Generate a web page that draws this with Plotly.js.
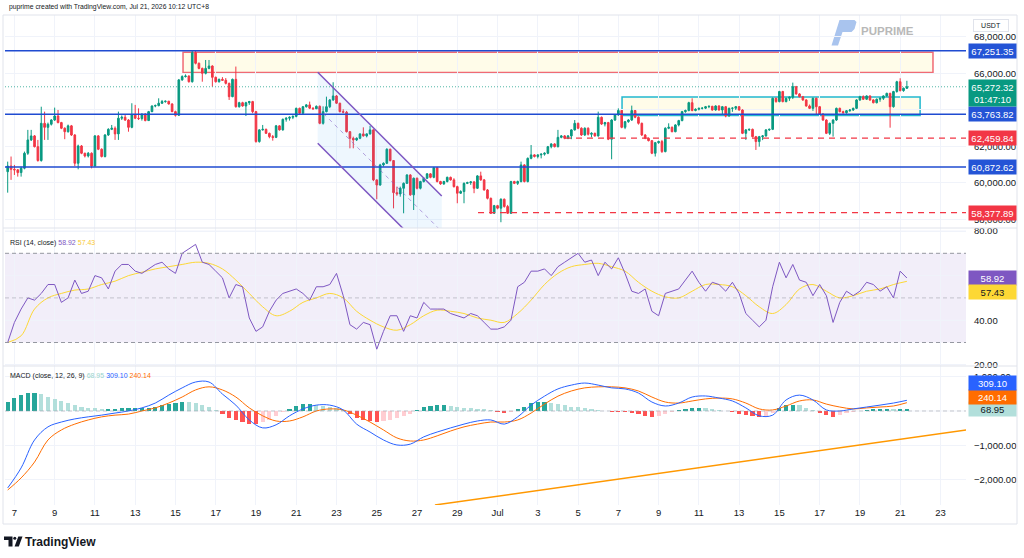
<!DOCTYPE html>
<html>
<head>
<meta charset="utf-8">
<script src="https://cdn.plot.ly/plotly-3.0.1.min.js"></script>
<style>
html,body{margin:0;padding:0;background:#ffffff;}
#chart{width:1024px;height:558px;}
</style>
</head>
<body>
<div id="chart"></div>
<script>
// ---------------- DATA ----------------
const candleStartUTC = [2026, 5, 6, 16];   // 2026-06-06 16:00, 4H candles
const candleHours = 4;

const opens = [
60620,60930,60750,60720,60570,60810,61630,62360,62580,61990,
61230,63270,63050,63220,63450,63670,63310,63000,62810,63130,
62630,61080,62030,61630,61480,61630,60930,62580,61850,61450,
62630,62940,63000,62690,63550,63600,63450,63050,63730,63550,
63530,63780,63420,63910,64220,64240,64370,64460,64480,
64330,63910,63710,65650,65830,65860,65550,67140,66560,66280,
66010,66280,66410,65790,65550,65680,65630,65460,64730,65680,
64180,64400,64220,64400,64460,63910,62270,62910,62940,62720,
62540,62500,63130,62910,63490,63550,63600,63650,64090,63820,
64180,64280,64100,
64070,64200,63270,63910,64180,64550,
64770,64370,63910,63880,62810,62450,62360,62450,62690,62580,
62690,62910,60170,59890,60990,61080,61850,61230,59470,59400,
59710,59980,60440,59350,60260,59710,60080,60260,60500,60310,
60840,60080,59950,60080,60310,60170,59800,59440,59530,59980,
60020,60060,59710,60390,60170,59620,59160,58340,58760,58620,
59110,58710,58340,60080,59980,60080,60990,60080,61350,61540,
61450,61540,61580,61630,61990,62140,61990,62500,62580,62450,
62580,62910,63270,63000,62630,63000,62670,62720,62580,63600,
63230,63310,62400,63450,63730,63970,63050,63360,63450,63970,
63600,63270,62630,62450,62320,61630,62210,62270,61720,63000,
63050,62810,63180,63420,63910,63970,64400,63970,64040,64090,
64100,64180,64200,64000,64220,64000,64180,63670,64090,
64100,64180,64000,62720,62910,62940,62540,62270,62540,62580,
62910,62940,64640,64460,65010,64460,64640,64700,65280,64880,
64730,64550,64220,64090,64640,64180,63780,63450,62720,63270,
63450,64090,63910,63850,63960,64000,64090,64550,64730,64590,
64770,64550,64400,64590,64640,64770,64910,64180,65010,65550,65060,65190
];
const highs = [
61170,61450,60990,60760,60900,61720,62910,62910,62630,62360,
64180,63910,63310,63500,64130,64000,63350,63050,63200,63180,
62680,62100,62080,61660,61700,61680,62630,62630,61900,62680,
63000,63180,63100,63910,63700,63730,63500,64370,64280,64090,
63800,63820,63950,64250,64300,64640,64550,64520,64500,
64370,63960,65700,65900,65950,65900,67251,67251,66600,66320,
66740,66740,66450,65830,65720,65800,65750,65500,65720,66380,
64450,64450,64450,64500,64500,63950,62950,63180,62980,62760,
62630,63180,63160,63530,63600,63650,63700,64130,64130,64220,
64330,64460,64150,
64250,64250,64200,64730,64600,65520,
64820,64400,64040,63950,62850,62540,62500,62720,63050,62720,
63130,62950,60200,61050,61130,61900,61880,61260,59800,59800,
60030,60480,60480,60300,60300,60120,60300,60540,60540,60880,
60880,60120,60120,60350,60350,60260,59850,59600,60030,60070,
60100,60100,60430,60620,60220,59670,59200,58800,58800,59160,
59150,58800,60120,60120,60130,61170,61030,61400,62080,61580,
61580,61620,61680,62030,62180,62180,62910,62630,62630,62630,
62950,63450,63310,63050,63050,63050,62780,62760,63910,63640,
63350,63350,63500,63780,64090,64000,63400,63500,64240,64000,
63650,63310,62680,62500,62350,62250,62320,62360,63050,63270,
63100,63220,63460,63950,64020,64450,64640,64090,64130,64150,
64220,64250,64230,64260,64260,64220,64220,64130,64150,
64220,64220,64040,62950,62980,62980,62580,62580,62630,62950,
62980,64680,64680,65050,65050,64680,64740,65500,65320,64920,
64770,64590,64300,64680,64680,64220,63820,63490,63310,63490,
64130,64130,63960,64000,64050,64130,64590,64780,64800,64800,
64800,64590,64630,64680,64800,64950,64950,65050,65600,65740,65230,65600
];
const lows = [
59470,60170,60440,60350,60350,60750,61540,62300,61950,61170,
61170,62360,62360,63150,63400,63270,62950,62400,62760,62580,
60930,60750,61580,61400,61400,60800,60900,61800,61400,61400,
62580,62900,62360,62360,63450,63400,62810,63000,63500,63450,
63420,63380,63400,63880,64150,64200,64330,64400,64300,
63880,63640,63680,65600,65780,65500,65500,66500,66230,65550,
65950,66230,65280,65500,65500,65600,65400,64550,64700,64130,
64130,64180,63670,64280,63820,62210,62210,62870,62690,62450,
62320,62460,62870,62870,63360,63420,63500,63600,63780,63780,
64130,64050,64000,
64050,63220,63200,63870,64100,64500,
64330,63870,63820,62770,61900,61900,62300,62400,62540,62500,
62650,60100,59110,59850,60900,61040,61180,58610,59300,59250,
58340,59950,59300,58520,59650,59650,60030,60220,60260,60260,
60030,59900,59900,60030,60130,59750,58890,59400,58890,59940,
59900,59440,59670,60120,59580,59100,58300,58300,58560,57850,
58650,58300,58300,59940,59890,60030,60030,60030,61300,61400,
61350,61350,61500,61580,61900,61950,61950,62450,62400,62400,
62400,62870,62950,62580,62580,62600,62500,62540,62540,63180,
63100,62350,61300,63400,63680,63000,62950,63300,63400,63550,
63200,62580,62400,62280,61580,61450,62150,61650,61680,62950,
62780,62780,63100,63380,63850,63930,63930,63930,63980,64030,
64050,64100,63960,63960,63960,63780,63600,63640,63900,
64000,63960,62680,62360,62850,62500,61810,61990,62350,62540,
62850,62900,64400,64420,64420,64420,64500,64600,64840,64690,
64500,64180,64050,63950,63730,63730,63400,62680,62630,62540,
63400,63870,63800,63800,63900,63950,64050,64500,64550,64550,
64500,64360,64360,64450,64550,64730,63030,64130,64950,65020,65000,65150
];
const closes = [
60930,60750,60720,60570,60810,61630,62360,62580,61990,61230,
63270,63050,63220,63450,63670,63310,63000,62810,63130,62630,
61080,62030,61630,61480,61630,60930,62580,61850,61450,62630,
62940,63000,62690,63550,63600,63450,63050,63730,63550,63530,
63780,63420,63910,64220,64240,64370,64460,64480,64330,
63910,63710,65650,65830,65860,65550,67140,66560,66280,66010,
66280,66410,65790,65550,65680,65630,65460,64730,65680,64180,
64400,64220,64400,64460,63910,62270,62910,62940,62720,62540,
62500,63130,62910,63490,63550,63600,63650,64090,63820,64180,
64280,64100,64070,
64200,63270,63910,64180,64550,64770,
64370,63910,63880,62810,62450,62360,62450,62690,62580,62690,
62910,60170,59890,60990,61080,61850,61230,59470,59400,59710,
59980,60440,59350,60260,59710,60080,60260,60500,60310,60840,
60080,59950,60080,60310,60170,59800,59440,59530,59980,60020,
60060,59710,60390,60170,59620,59160,58340,58760,58620,59110,
58710,58340,60080,59980,60080,60990,60080,61350,61540,61450,
61540,61580,61630,61990,62140,61990,62500,62580,62450,62580,
62910,63270,63000,62630,63000,62670,62720,62580,63600,63230,
63310,62400,63450,63730,63970,63050,63360,63450,63970,63600,
63270,62630,62450,62320,61630,62210,62270,61720,63000,63050,
62810,63180,63420,63910,63970,64400,63970,64040,64090,64100,
64180,64200,64000,64220,64000,64180,63670,64090,64100,
64180,64000,62720,62910,62940,62540,62270,62540,62580,62910,
62940,64640,64460,65010,64460,64640,64700,65280,64880,64730,
64550,64220,64090,64640,64180,63780,63450,62720,63270,63450,
64090,63910,63850,63960,64000,64090,64550,64730,64590,64770,
64550,64400,64590,64640,64770,64910,64180,65010,65550,65060,65190,65272.32
];

// RSI (14) read every 2 candles, its MA every 4 candles
const rsiStep = 2;
const rsiValues = [
30,39,45,50,49,52,56,56,48,50,
58,52,53,60,59,54,62,65,65,62,
61,63,65,66,63,61,70,72,74,66,
65,62,59,50,56,55,41,35,37,44,
49,52,53,54,52,49,55,55,56,61,
51,38,36,39,38,27,35,42,42,35,
42,41,48,45,45,45,43,42,41,43,
42,39,36,36,37,40,55,57,62,62,
63,60,64,66,68,70,66,67,60,66,
63,68,61,53,52,54,44,42,52,53,
54,58,62,57,53,57,56,53,57,52,
43,40,37,40,55,66,59,65,58,57,
51,56,51,39,48,53,51,53,57,56,
53,55,50,62,58.92
];
const rsiMaStep = 4;
const rsiMaValues = [
30,33,45,50,52,53.5,54,56,57.5,60,
61.5,63,64,65,66,65.5,63,58,52,46,
42,44,48,50,52,50,44,40,37,35.5,
38,42,44.5,44,43,41,40,39,43,49,
56,61,64,65,65.5,64,62,57,53,50.5,
50,53,56,56,55,51,46,43,47,54,
56,53,50,51,53,54,56,57.43
];

// MACD (12, 26, 9) read every 4 candles, histogram every 2 candles
const macdStep = 4;
const macdValues = [
-2230,-1650,-840,-460,-320,-230,-170,-120,-60,0,
90,230,460,670,840,840,490,170,-260,-490,
-400,-140,60,170,170,30,-380,-610,-840,-985,
-960,-750,-610,-490,-380,-290,-260,-380,-170,170,
430,640,750,810,750,670,640,520,260,145,
230,405,435,375,290,90,-140,-120,320,460,
320,30,0,60,115,170,230,309.10
];
const signalValues = [
-2290,-1940,-1480,-840,-550,-380,-260,-170,-120,-90,
0,90,230,405,610,700,610,405,90,-140,
-290,-290,-170,0,60,30,-120,-320,-550,-780,
-870,-840,-720,-580,-460,-380,-320,-320,-260,-60,
200,430,580,670,700,700,670,580,405,260,
230,290,350,375,350,230,60,30,145,290,
320,200,115,60,90,115,145,240.14
];
const histStep = 2;
const histValues = [
250,380,470,520,520,480,420,360,300,230,
170,130,100,80,60,60,70,80,90,90,
90,100,130,160,200,230,260,250,230,180,
120,30,-80,-200,-260,-330,-370,-380,-330,-250,
-150,-40,60,140,190,200,180,150,120,80,
20,-80,-200,-270,-300,-320,-300,-250,-200,-150,
-80,30,110,150,160,160,140,110,100,90,
70,50,20,-20,-60,-30,60,130,220,260,
260,230,200,160,120,110,90,50,20,0,
-30,-40,-40,-70,-100,-140,-170,-140,-100,-40,
20,70,100,100,90,60,30,10,-30,-80,
-120,-150,-170,-140,-60,80,160,180,160,100,
30,-60,-130,-160,-130,-70,-20,10,30,50,
60,60,50,60,68.95
];

// x-axis ticks
const tickDates = ['2026-06-07','2026-06-09','2026-06-11','2026-06-13','2026-06-15','2026-06-17','2026-06-19','2026-06-21','2026-06-23','2026-06-25','2026-06-27','2026-06-29','2026-07-01','2026-07-03','2026-07-05','2026-07-07','2026-07-09','2026-07-11','2026-07-13','2026-07-15','2026-07-17','2026-07-19','2026-07-21','2026-07-23'];
const tickLabels = ['7','9','11','13','15','17','19','21','23','25','27','29','Jul','3','5','7','9','11','13','15','17','19','21','23'];
const priceTicks = [58000,60000,62000,64000,66000,68000];
const rsiTicks = [20,40,80];          // 60.00 sits behind the value tags in the reference
const macdTicks = [-2000,-1000,1000]; // 0.00 sits behind the 68.95 tag in the reference
const rsiGrid = [20,40,60,80];

// drawn levels / tools
const resistanceLevel = 67251.35;
const midLevel = 63763.82;
const supportLevel = 60872.62;
const dashedLevelA = 62459.84;
const dashedLevelB = 58377.89;
const lastPrice = 65272.32;
const countdown = '01:47:10';
const supplyZone = ['2026-06-15 09:02','2026-07-22 15:07', 66050, 67160];
const rangeZone = ['2026-07-07 04:25','2026-07-21 23:46', 63700, 64716];
const channelTimes = ['2026-06-22 01:36','2026-06-28 05:27'];
const channelUpper = [66066, 59288];
const channelMiddle = [64120, 57342];
const channelLower = [62175, 55397];
const dashedAStart = '2026-07-04 08:24';
const dashedBStart = '2026-06-30 00:43';
const macdTrendTimes = ['2026-06-27 21:21','2026-07-24 07:00'];
const macdTrendValues = [-2725, -550];

// ---------------- helpers ----------------
const FONT = 'Liberation Sans, Arial, sans-serif';
const PL = 5, PR = 966, PT = 15, PB = 505;
const px2x = p => (p - PL) / (PR - PL);
const px2y = p => (PB - p) / (PB - PT);
function fmt(ms){ return new Date(ms).toISOString().slice(0,16).replace('T',' '); }
const t0 = Date.UTC(candleStartUTC[0], candleStartUTC[1], candleStartUTC[2], candleStartUTC[3]);
const times = closes.map((_, i) => fmt(t0 + i * candleHours * 3600000));
const stepTimes = (n, step) => Array.from({length:n}, (_, k) => times[k * step]);
const rsiTimes = stepTimes(rsiValues.length, rsiStep);
const rsiMaTimes = stepTimes(rsiMaValues.length, rsiMaStep);
const macdTimes = stepTimes(macdValues.length, macdStep);
const histTimes = stepTimes(histValues.length, histStep);
const histColors = histValues.map((v, i) => {
  const prev = i > 0 ? histValues[i-1] : v;
  if (v >= 0) return v >= prev ? '#26a69a' : '#b2dfdb';
  return v <= prev ? '#ff5252' : '#ffcdd2';
});
const xRange = ['2026-06-06 12:47','2026-07-24 06:29'];
const xEnd = xRange[1];

// ---------------- traces ----------------
const traces = [
  { type:'scatter', mode:'lines', x:[channelTimes[0],channelTimes[1],channelTimes[1],channelTimes[0],channelTimes[0]],
    y:[channelUpper[0],channelUpper[1],channelLower[1],channelLower[0],channelUpper[0]],
    fill:'toself', fillcolor:'rgba(33,150,243,0.08)', line:{width:0}, hoverinfo:'skip', xaxis:'x', yaxis:'y' },
  { type:'candlestick', x:times, open:opens, high:highs, low:lows, close:closes, xaxis:'x', yaxis:'y',
    increasing:{line:{color:'#089981', width:1}, fillcolor:'#089981'},
    decreasing:{line:{color:'#f23645', width:1}, fillcolor:'#f23645'},
    whiskerwidth:0, hoverinfo:'skip' },
  { type:'scatter', mode:'lines', x:rsiMaTimes, y:rsiMaValues, line:{color:'#fdd835', width:1, shape:'spline'}, xaxis:'x', yaxis:'y2', hoverinfo:'skip' },
  { type:'scatter', mode:'lines', x:rsiTimes, y:rsiValues, line:{color:'#7e57c2', width:1}, xaxis:'x', yaxis:'y2', hoverinfo:'skip' },
  { type:'bar', x:histTimes, y:histValues, marker:{color:histColors, line:{width:0}}, width:histStep*candleHours*3600000*0.62, xaxis:'x', yaxis:'y3', hoverinfo:'skip' },
  { type:'scatter', mode:'lines', x:macdTimes, y:signalValues, line:{color:'#ff6d00', width:1, shape:'spline'}, xaxis:'x', yaxis:'y3', hoverinfo:'skip' },
  { type:'scatter', mode:'lines', x:macdTimes, y:macdValues, line:{color:'#2962ff', width:1, shape:'spline'}, xaxis:'x', yaxis:'y3', hoverinfo:'skip' }
];

// ---------------- shapes ----------------
const BLUE = '#1f4bd1';
const shapes = [
  { type:'rect', xref:'x', yref:'y', x0:supplyZone[0], x1:supplyZone[1], y0:supplyZone[2], y1:supplyZone[3],
    fillcolor:'rgba(255,236,120,0.16)', line:{color:'#f06a74', width:1.5}, layer:'below' },
  { type:'rect', xref:'x', yref:'y', x0:rangeZone[0], x1:rangeZone[1], y0:rangeZone[2], y1:rangeZone[3],
    fillcolor:'rgba(255,236,120,0.16)', line:{color:'#22b8cf', width:1.5}, layer:'below' },
  { type:'rect', xref:'paper', yref:'y2', x0:0, x1:1, y0:30, y1:70, fillcolor:'rgba(126,87,194,0.1)', line:{width:0}, layer:'below' },
  { type:'line', xref:'paper', yref:'y2', x0:0, x1:1, y0:70, y1:70, line:{color:'#9598a1', width:1, dash:'4px,3px'} },
  { type:'line', xref:'paper', yref:'y2', x0:0, x1:1, y0:50, y1:50, line:{color:'rgba(149,152,161,0.5)', width:1, dash:'4px,3px'} },
  { type:'line', xref:'paper', yref:'y2', x0:0, x1:1, y0:30, y1:30, line:{color:'#9598a1', width:1, dash:'4px,3px'} },
  { type:'line', xref:'paper', yref:'y3', x0:0, x1:1, y0:0, y1:0, line:{color:'rgba(149,152,161,0.5)', width:1, dash:'4px,3px'} },
  { type:'line', xref:'paper', yref:'y', x0:0, x1:1, y0:resistanceLevel, y1:resistanceLevel, line:{color:BLUE, width:1.5} },
  { type:'line', xref:'paper', yref:'y', x0:0, x1:1, y0:midLevel, y1:midLevel, line:{color:BLUE, width:1.5} },
  { type:'line', xref:'paper', yref:'y', x0:0, x1:1, y0:supportLevel, y1:supportLevel, line:{color:BLUE, width:1.5} },
  { type:'line', xref:'paper', yref:'y', x0:0, x1:1, y0:lastPrice, y1:lastPrice, line:{color:'rgba(8,153,129,0.7)', width:1, dash:'1px,2px'} },
  { type:'line', xref:'x', yref:'y', x0:dashedAStart, x1:xEnd, y0:dashedLevelA, y1:dashedLevelA, line:{color:'#f23645', width:1.2, dash:'6px,5px'} },
  { type:'line', xref:'x', yref:'y', x0:dashedBStart, x1:xEnd, y0:dashedLevelB, y1:dashedLevelB, line:{color:'#f23645', width:1.2, dash:'6px,5px'} },
  { type:'line', xref:'x', yref:'y', x0:channelTimes[0], x1:channelTimes[1], y0:channelUpper[0], y1:channelUpper[1], line:{color:'#7e57c2', width:1.5} },
  { type:'line', xref:'x', yref:'y', x0:channelTimes[0], x1:channelTimes[1], y0:channelLower[0], y1:channelLower[1], line:{color:'#7e57c2', width:1.5} },
  { type:'line', xref:'x', yref:'y', x0:channelTimes[0], x1:channelTimes[1], y0:channelMiddle[0], y1:channelMiddle[1], line:{color:'rgba(126,87,194,0.55)', width:1, dash:'4px,4px'} },
  { type:'line', xref:'x', yref:'y3', x0:macdTrendTimes[0], x1:macdTrendTimes[1], y0:macdTrendValues[0], y1:macdTrendValues[1], line:{color:'#ff9800', width:1.5} },
  { type:'line', xref:'paper', yref:'paper', x0:px2x(3), x1:px2x(1017), y0:px2y(228), y1:px2y(228), line:{color:'#e0e3eb', width:1} },
  { type:'line', xref:'paper', yref:'paper', x0:px2x(3), x1:px2x(1017), y0:px2y(366), y1:px2y(366), line:{color:'#e0e3eb', width:1} },
  { type:'rect', xref:'paper', yref:'paper', x0:px2x(3), x1:px2x(1017), y0:px2y(524), y1:px2y(15), line:{color:'#e0e3eb', width:1}, fillcolor:'rgba(0,0,0,0)' },
  { type:'path', xref:'paper', yref:'paper', layer:'below',
    path:`M ${px2x(831.5)} ${px2y(45.5)} L ${px2x(838)} ${px2y(45.5)} L ${px2x(842.5)} ${px2y(32)} L ${px2x(851.5)} ${px2y(32)} L ${px2x(854.5)} ${px2y(29)} L ${px2x(856.5)} ${px2y(22)} L ${px2x(854.5)} ${px2y(20)} L ${px2x(839.5)} ${px2y(20)} Z`,
    fillcolor:'#a9c4ee', line:{width:0} },
  { type:'path', xref:'paper', yref:'paper',
    path:`M ${px2x(4)} ${px2y(536.5)} L ${px2x(12.5)} ${px2y(536.5)} L ${px2x(12.5)} ${px2y(546.5)} L ${px2x(8.5)} ${px2y(546.5)} L ${px2x(8.5)} ${px2y(540)} L ${px2x(4)} ${px2y(540)} Z`,
    fillcolor:'#131722', line:{width:0} },
  { type:'circle', xref:'paper', yref:'paper', x0:px2x(13.3), x1:px2x(16.3), y0:px2y(539.8), y1:px2y(536.8), fillcolor:'#131722', line:{width:0} },
  { type:'path', xref:'paper', yref:'paper',
    path:`M ${px2x(18.3)} ${px2y(536.5)} L ${px2x(22.5)} ${px2y(536.5)} L ${px2x(18.8)} ${px2y(546.5)} L ${px2x(14.6)} ${px2y(546.5)} Z`,
    fillcolor:'#131722', line:{width:0} }
];
// faint RSI grid lines (including the 60 level whose label is hidden)
rsiGrid.forEach(v => shapes.push({ type:'line', xref:'paper', yref:'y2', x0:0, x1:1, y0:v, y1:v, line:{color:'#f0f3fa', width:1}, layer:'below' }));
shapes.push({ type:'line', xref:'paper', yref:'y3', x0:0, x1:1, y0:0, y1:0, line:{color:'#f0f3fa', width:1}, layer:'below' });

// ---------------- annotations ----------------
function tag(yref, value, text, bg, fg, yshift){
  return { xref:'paper', x:px2x(968), xanchor:'left', yref:yref, y:value, yanchor:'middle', yshift:yshift||0,
    text:text, showarrow:false, bgcolor:bg, font:{color:fg, size:9.5, family:FONT}, width:44, borderpad:1.5, align:'center' };
}
const fmt2 = v => v.toLocaleString('en-US', {minimumFractionDigits:2, maximumFractionDigits:2});
const rsiLast = rsiValues[rsiValues.length-1], rsiMaLast = rsiMaValues[rsiMaValues.length-1];
const macdLast = macdValues[macdValues.length-1], sigLast = signalValues[signalValues.length-1], histLast = histValues[histValues.length-1];
const annotations = [
  { xref:'paper', yref:'paper', x:px2x(7), y:px2y(7.5), xanchor:'left', yanchor:'middle', showarrow:false,
    text:'puprime created with TradingView.com, Jul 21, 2026 10:12 UTC+8', font:{size:6.8, color:'#131722', family:FONT} },
  { xref:'paper', yref:'paper', x:px2x(991), y:px2y(25), xanchor:'center', yanchor:'middle', showarrow:false,
    text:'USDT', font:{size:7, color:'#131722', family:FONT}, bordercolor:'#e0e3eb', borderwidth:1, borderpad:2, width:30 },
  { xref:'paper', yref:'paper', x:px2x(859), y:px2y(31.5), xanchor:'left', yanchor:'middle', showarrow:false,
    text:'<b>PUPRIME</b>', font:{size:11.5, color:'#b8b8b8', family:FONT} },
  { xref:'paper', yref:'paper', x:px2x(8), y:px2y(243), xanchor:'left', yanchor:'middle', showarrow:false,
    text:`RSI (14, close) <span style="color:#7e57c2">${fmt2(rsiLast)}</span> <span style="color:#f9c932">${fmt2(rsiMaLast)}</span>`,
    font:{size:7, color:'#131722', family:FONT} },
  { xref:'paper', yref:'paper', x:px2x(8), y:px2y(376), xanchor:'left', yanchor:'middle', showarrow:false,
    text:`MACD (close, 12, 26, 9) <span style="color:#9ad3cc">${fmt2(histLast)}</span> <span style="color:#2962ff">${fmt2(macdLast)}</span> <span style="color:#ff6d00">${fmt2(sigLast)}</span>`,
    font:{size:7, color:'#131722', family:FONT} },
  { xref:'paper', yref:'paper', x:px2x(23), y:px2y(541.5), xanchor:'left', yanchor:'middle', showarrow:false,
    text:'<b>TradingView</b>', font:{size:12, color:'#131722', family:FONT} },
  tag('y', resistanceLevel, fmt2(resistanceLevel), '#2454d6', '#ffffff', 0),
  tag('y', supportLevel, fmt2(supportLevel), '#2454d6', '#ffffff', 0),
  tag('y', dashedLevelA, fmt2(dashedLevelA), '#f23645', '#ffffff', 0),
  tag('y', dashedLevelB, fmt2(dashedLevelB), '#f23645', '#ffffff', 0),
  tag('y', midLevel, fmt2(midLevel), '#2454d6', '#ffffff', 0),
  tag('y', lastPrice, fmt2(lastPrice) + '<br>' + countdown, '#089981', '#ffffff', -6.5),
  tag('y2', rsiLast, fmt2(rsiLast), '#7e57c2', '#ffffff', 0),
  tag('y2', rsiMaLast, fmt2(rsiMaLast), '#fdd835', '#131722', -10.5),
  tag('y3', histLast, fmt2(histLast), '#b2dfdb', '#131722', 0),
  tag('y3', sigLast, fmt2(sigLast), '#ff6d00', '#ffffff', 5.5),
  tag('y3', macdLast, fmt2(macdLast), '#2962ff', '#ffffff', 17)
];

// ---------------- layout ----------------
const grid = '#f0f3fa';
const yCommon = { side:'right', showline:false, zeroline:false, gridcolor:grid, ticks:'outside', ticklen:5, tickcolor:'rgba(0,0,0,0)',
  tickfont:{size:9.5, color:'#131722', family:FONT}, fixedrange:true };
const layout = {
  width:1024, height:558,
  margin:{l:PL, r:1024-PR, t:PT, b:558-PB},
  paper_bgcolor:'#ffffff', plot_bgcolor:'#ffffff',
  showlegend:false, dragmode:false, hovermode:false,
  font:{family:FONT, color:'#131722'},
  bargap:0,
  xaxis:{ type:'date', range:xRange, anchor:'y3', tickmode:'array', tickvals:tickDates, ticktext:tickLabels,
    showgrid:true, gridcolor:grid, zeroline:false, showline:false, ticks:'', rangeslider:{visible:false},
    tickfont:{size:9.5, color:'#131722', family:FONT}, fixedrange:true },
  yaxis: Object.assign({}, yCommon, { domain:[px2y(228), 1], range:[57534, 69205], tickmode:'array', tickvals:priceTicks, tickformat:',.2f' }),
  yaxis2: Object.assign({}, yCommon, { domain:[px2y(366), px2y(228)], range:[19.46, 81.35], tickmode:'array', tickvals:rsiTicks, tickformat:'.2f' }),
  yaxis3: Object.assign({}, yCommon, { domain:[0, px2y(366)], range:[-2725, 1304], tickmode:'array', tickvals:macdTicks, tickformat:',.2f' }),
  shapes: shapes,
  annotations: annotations
};

Plotly.newPlot('chart', traces, layout, {staticPlot:true, displayModeBar:false});
</script>
</body>
</html>
